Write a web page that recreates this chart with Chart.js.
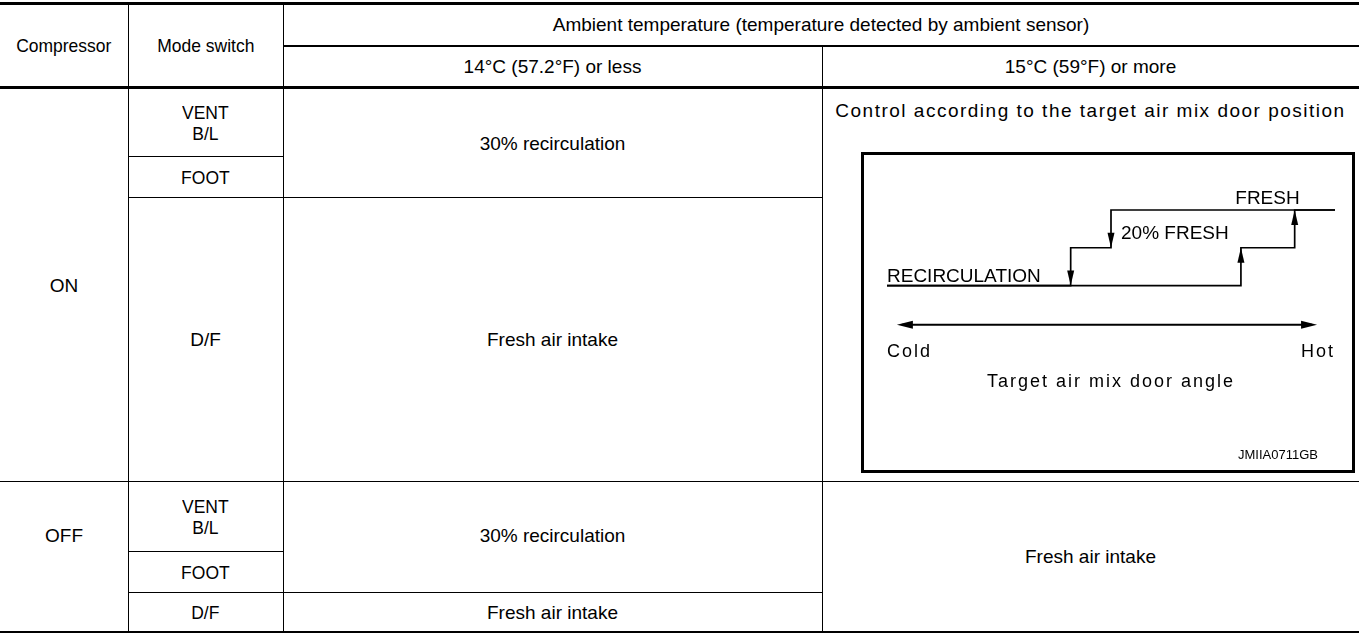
<!DOCTYPE html>
<html>
<head>
<meta charset="utf-8">
<script src="https://cdn.jsdelivr.net/npm/chart.js@4.4.1/dist/chart.umd.min.js"></script>
<style>
  html, body { margin: 0; padding: 0; background: #fff; }
  body { width: 1359px; height: 633px; position: relative; overflow: hidden;
         font-family: "Liberation Sans", Arial, sans-serif; font-size: 19px; color: #000; }
  .c { position: absolute; display: flex; align-items: center; justify-content: center; text-align: center; line-height: 21px; }
  .c span { display: inline-block; white-space: nowrap; }
  .n span { transform: scaleX(0.92); }
  .h { position: absolute; background: #000; }
  .v { position: absolute; background: #000; width: 1px; }
  #frame { position: absolute; left: 861px; top: 152px; width: 488px; height: 315px; border: 3px solid #000; }
  #frame canvas { display: block; }
</style>
</head>
<body>

<!-- table rules -->
<div class="h" style="left:0;top:2px;width:1359px;height:3px"></div>
<div class="h" style="left:283px;top:45px;width:1076px;height:2px"></div>
<div class="h" style="left:0;top:86px;width:1359px;height:3px"></div>
<div class="h" style="left:128px;top:156px;width:155px;height:1px"></div>
<div class="h" style="left:128px;top:197px;width:694px;height:1px"></div>
<div class="h" style="left:0;top:481px;width:1359px;height:1px"></div>
<div class="h" style="left:128px;top:551px;width:155px;height:1px"></div>
<div class="h" style="left:128px;top:592px;width:694px;height:1px"></div>
<div class="h" style="left:0;top:631px;width:1359px;height:2px"></div>
<div class="v" style="left:128px;top:5px;height:627px"></div>
<div class="v" style="left:283px;top:5px;height:627px"></div>
<div class="v" style="left:822px;top:47px;height:585px"></div>

<!-- header -->
<div class="c n" style="left:0;top:5px;width:128px;height:81px"><span>Compressor</span></div>
<div class="c n" style="left:128px;top:5px;width:155px;height:81px"><span>Mode switch</span></div>
<div class="c" style="left:283px;top:4px;width:1076px;height:40px"><span>Ambient temperature (temperature detected by ambient sensor)</span></div>
<div class="c" style="left:283px;top:47px;width:539px;height:39px"><span>14°C (57.2°F) or less</span></div>
<div class="c" style="left:822px;top:47px;width:537px;height:39px"><span>15°C (59°F) or more</span></div>

<!-- compressor ON -->
<div class="c" style="left:0;top:89px;width:128px;height:392px"><span>ON</span></div>
<div class="c n" style="left:128px;top:89px;width:155px;height:67px"><span>VENT<br>B/L</span></div>
<div class="c n" style="left:128px;top:157px;width:155px;height:40px"><span>FOOT</span></div>
<div class="c" style="left:283px;top:89px;width:539px;height:108px"><span>30% recirculation</span></div>
<div class="c" style="left:128px;top:198px;width:155px;height:283px"><span>D/F</span></div>
<div class="c" style="left:283px;top:198px;width:539px;height:283px"><span>Fresh air intake</span></div>
<div class="c" style="left:822px;top:89px;width:537px;height:42px;letter-spacing:1.5px"><span>Control according to the target air mix door position</span></div>
<div id="frame"><canvas id="doorChart" width="488" height="315"></canvas></div>

<!-- compressor OFF -->
<div class="c" style="left:0;top:482px;width:128px;height:106px"><span>OFF</span></div>
<div class="c n" style="left:128px;top:482px;width:155px;height:69px"><span>VENT<br>B/L</span></div>
<div class="c n" style="left:128px;top:552px;width:155px;height:40px"><span>FOOT</span></div>
<div class="c" style="left:283px;top:482px;width:539px;height:106px"><span>30% recirculation</span></div>
<div class="c" style="left:822px;top:482px;width:537px;height:149px"><span>Fresh air intake</span></div>
<div class="c n" style="left:128px;top:593px;width:155px;height:38px"><span>D/F</span></div>
<div class="c" style="left:283px;top:593px;width:539px;height:38px"><span>Fresh air intake</span></div>

<script>
// intake door modes, bottom to top
const levels = ['RECIRCULATION', '20% FRESH', 'FRESH'];
// target air mix door angle (0 = full cold, 100 = full hot) where the mode steps
const riseAt = [79, 91];   // RECIRC -> 20% FRESH, 20% FRESH -> FRESH
const fallAt = [41, 50];   // 20% FRESH -> RECIRC, FRESH -> 20% FRESH
const angleLabels = ['Cold', 'Hot'];

const risePath = [{ x: 0, y: 0 }, { x: riseAt[0], y: 1 }, { x: riseAt[1], y: 2 }, { x: 100, y: 2 }];
const fallPath = [{ x: 100, y: 2 }, { x: fallAt[1], y: 1 }, { x: fallAt[0], y: 0 }, { x: 0, y: 0 }];

const FONT = 'Liberation Sans';

function arrowHead(ctx, x, y, dir) {
  // dir: -1 points up, 1 points down; (x, y) is the tip
  ctx.beginPath();
  ctx.moveTo(x, y);
  ctx.lineTo(x - 3.5, y - dir * 15);
  ctx.lineTo(x + 3.5, y - dir * 15);
  ctx.closePath();
  ctx.fill();
}

const hysteresisPlugin = {
  id: 'hysteresis',
  beforeDraw(chart) {
    // the axis caption in the figure is letter-spaced
    chart.ctx.letterSpacing = '2px';
  },
  afterDatasetsDraw(chart) {
    const { ctx, scales: { x, y }, chartArea } = chart;
    ctx.save();
    ctx.letterSpacing = '0px';
    ctx.fillStyle = '#000';
    ctx.strokeStyle = '#000';

    // arrows on the switching edges
    arrowHead(ctx, x.getPixelForValue(riseAt[0]), y.getPixelForValue(1), -1);
    arrowHead(ctx, x.getPixelForValue(riseAt[1]), y.getPixelForValue(2), -1);
    arrowHead(ctx, x.getPixelForValue(fallAt[1]), y.getPixelForValue(1), 1);
    arrowHead(ctx, x.getPixelForValue(fallAt[0]), y.getPixelForValue(0), 1);

    // mode labels
    ctx.font = '19px ' + FONT;
    ctx.textBaseline = 'alphabetic';
    ctx.textAlign = 'left';
    ctx.fillText(levels[0], x.getPixelForValue(0), y.getPixelForValue(0) - 4);
    ctx.fillText(levels[1], x.getPixelForValue(fallAt[1]) + 10, y.getPixelForValue(1) - 9);
    ctx.textAlign = 'right';
    ctx.fillText(levels[2], x.getPixelForValue(riseAt[1]) + 5, y.getPixelForValue(2) - 6);

    // double-headed angle axis
    const ay = chartArea.bottom;
    const ax0 = x.getPixelForValue(2.2), ax1 = x.getPixelForValue(96);
    ctx.lineWidth = 2;
    ctx.beginPath();
    ctx.moveTo(ax0 + 5, ay);
    ctx.lineTo(ax1 - 5, ay);
    ctx.stroke();
    ctx.beginPath();
    ctx.moveTo(ax0, ay); ctx.lineTo(ax0 + 16, ay - 4); ctx.lineTo(ax0 + 16, ay + 4); ctx.closePath(); ctx.fill();
    ctx.beginPath();
    ctx.moveTo(ax1, ay); ctx.lineTo(ax1 - 16, ay - 4); ctx.lineTo(ax1 - 16, ay + 4); ctx.closePath(); ctx.fill();

    // figure code
    ctx.font = '13px ' + FONT;
    ctx.textAlign = 'right';
    ctx.fillText('JMIIA0711GB', 454, chart.height - 11);
    ctx.restore();
  }
};

const lineStyle = {
  borderColor: '#000',
  borderWidth: 1.7,
  pointRadius: 0,
  stepped: 'before',
  showLine: true,
  clip: false,
  fill: false
};

new Chart(document.getElementById('doorChart'), {
  type: 'scatter',
  data: {
    datasets: [
      Object.assign({ label: 'Rising', data: risePath }, lineStyle),
      Object.assign({ label: 'Falling', data: fallPath }, lineStyle)
    ]
  },
  options: {
    responsive: false,
    animation: false,
    devicePixelRatio: 1,
    layout: { padding: { left: 23, right: 17, top: 55, bottom: 77 } },
    plugins: { legend: { display: false }, tooltip: { enabled: false } },
    scales: {
      x: {
        type: 'linear', min: 0, max: 100,
        grid: { display: false, drawTicks: false },
        border: { display: false },
        afterBuildTicks(axis) { axis.ticks = [{ value: 0 }, { value: 100 }]; },
        ticks: {
          align: 'inner', padding: 16, color: '#000',
          font: { family: FONT, size: 18 },
          callback: (v) => angleLabels[v === 0 ? 0 : 1]
        },
        title: {
          display: true, text: 'Target air mix door angle', color: '#000',
          font: { family: FONT, size: 18 }, padding: { top: -7, bottom: 0 }
        }
      },
      y: {
        display: false, min: -1.04, max: 2
      }
    }
  },
  plugins: [hysteresisPlugin]
});
</script>
</body>
</html>
